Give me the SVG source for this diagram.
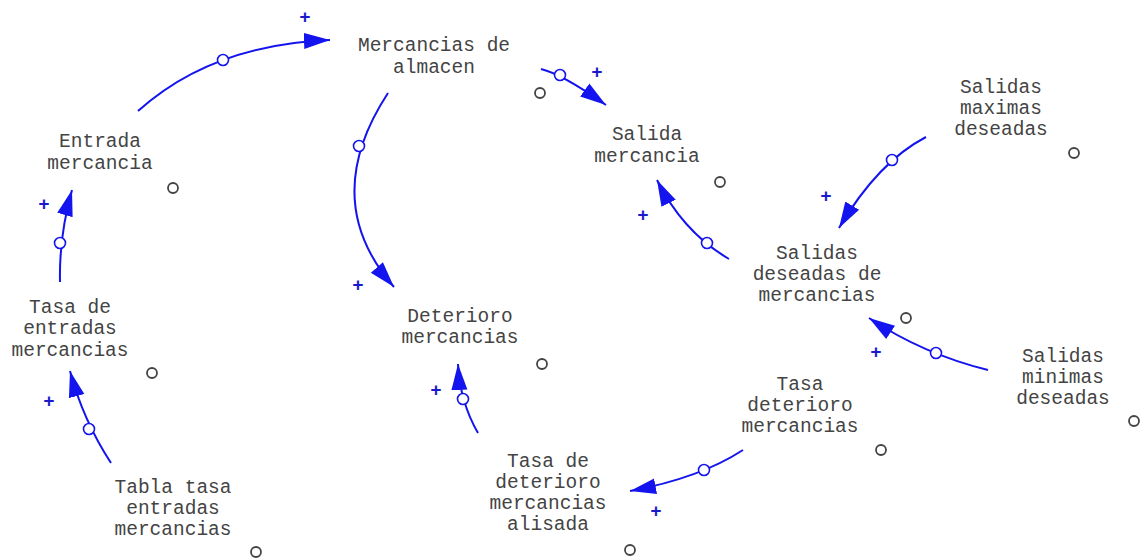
<svg xmlns="http://www.w3.org/2000/svg" width="1140" height="560" viewBox="0 0 1140 560">
<style>
.t{font-family:"Liberation Mono","Courier New",monospace;font-size:19.5px;fill:#444;text-anchor:middle}
.c{fill:#fff;stroke:#444;stroke-width:1.8}
.l{fill:none;stroke:#1414ee;stroke-width:2;marker-end:url(#ah)}
.k{fill:#fff;stroke:#1414ee;stroke-width:1.6}
.p{font-family:"Liberation Mono",monospace;font-size:19px;font-weight:bold;fill:#1a1acc;text-anchor:middle}
</style>
<defs>
<marker id="ah" markerUnits="userSpaceOnUse" markerWidth="28" markerHeight="18" viewBox="0 0 28 18" refX="26" refY="9" orient="auto">
<path d="M0,1 L26,9 L0,17 z" fill="#1414ee"/>
</marker>
</defs>
<rect width="1140" height="560" fill="#fff"/>
<g id="n-almacen"><text class="t" x="434" y="51">Mercancias de</text><text class="t" x="434" y="73">almacen</text><circle class="c" cx="540" cy="93" r="5"/></g>
<g id="n-entrada"><text class="t" x="100" y="147">Entrada</text><text class="t" x="100" y="169">mercancia</text><circle class="c" cx="173" cy="188" r="5"/></g>
<g id="n-salida"><text class="t" x="647" y="140">Salida</text><text class="t" x="647" y="162">mercancia</text><circle class="c" cx="720" cy="182" r="5"/></g>
<g id="n-maximas"><text class="t" x="1001" y="93">Salidas</text><text class="t" x="1001" y="114">maximas</text><text class="t" x="1001" y="135">deseadas</text><circle class="c" cx="1074" cy="153" r="5"/></g>
<g id="n-deseadas"><text class="t" x="817" y="259">Salidas</text><text class="t" x="817" y="280">deseadas de</text><text class="t" x="817" y="301">mercancias</text><circle class="c" cx="906" cy="318" r="5"/></g>
<g id="n-minimas"><text class="t" x="1063" y="362">Salidas</text><text class="t" x="1063" y="383">minimas</text><text class="t" x="1063" y="404">deseadas</text><circle class="c" cx="1134" cy="421" r="5"/></g>
<g id="n-tasadet"><text class="t" x="800" y="390">Tasa</text><text class="t" x="800" y="411">deterioro</text><text class="t" x="800" y="432">mercancias</text><circle class="c" cx="881" cy="450" r="5"/></g>
<g id="n-alisada"><text class="t" x="548" y="467">Tasa de</text><text class="t" x="548" y="488">deterioro</text><text class="t" x="548" y="509">mercancias</text><text class="t" x="548" y="530">alisada</text><circle class="c" cx="630" cy="550" r="5"/></g>
<g id="n-deterioro"><text class="t" x="460" y="322">Deterioro</text><text class="t" x="460" y="343">mercancias</text><circle class="c" cx="542" cy="364" r="5"/></g>
<g id="n-tasaent"><text class="t" x="70" y="313">Tasa de</text><text class="t" x="70" y="334">entradas</text><text class="t" x="70" y="356">mercancias</text><circle class="c" cx="152" cy="373" r="5"/></g>
<g id="n-tabla"><text class="t" x="173" y="493">Tabla tasa</text><text class="t" x="173" y="514">entradas</text><text class="t" x="173" y="535">mercancias</text><circle class="c" cx="256" cy="552" r="5"/></g>
<g id="connectors">
<path class="l" d="M138,111 Q212,44.5 330,40"/><circle class="k" cx="223" cy="60" r="5.5"/><text class="p" x="305" y="23">+</text>
<path class="l" d="M388,93 Q318,200 394,287"/><circle class="k" cx="359" cy="146" r="5.5"/><text class="p" x="358" y="291">+</text>
<path class="l" d="M541,69 Q562,74 606,105"/><circle class="k" cx="560" cy="75" r="5.5"/><text class="p" x="597" y="78">+</text>
<path class="l" d="M729,259 Q683,232 657,180"/><circle class="k" cx="707" cy="243" r="5.5"/><text class="p" x="643" y="221">+</text>
<path class="l" d="M926,137 Q878,162 839,228"/><circle class="k" cx="892" cy="160" r="5.5"/><text class="p" x="826" y="202">+</text>
<path class="l" d="M988,370 Q923,354 869,318"/><circle class="k" cx="936" cy="353" r="5.5"/><text class="p" x="876" y="358">+</text>
<path class="l" d="M743,450 Q700,478 630,491"/><circle class="k" cx="704" cy="470" r="5.5"/><text class="p" x="656" y="517">+</text>
<path class="l" d="M478,433 Q460,402 458,364"/><circle class="k" cx="463" cy="399" r="5.5"/><text class="p" x="436" y="396">+</text>
<path class="l" d="M60,282 Q59,236 72,190"/><circle class="k" cx="60" cy="243" r="5.5"/><text class="p" x="44" y="210">+</text>
<path class="l" d="M111,463 Q83,420 70,371"/><circle class="k" cx="89" cy="429" r="5.5"/><text class="p" x="49" y="407">+</text>
</g>
</svg>
